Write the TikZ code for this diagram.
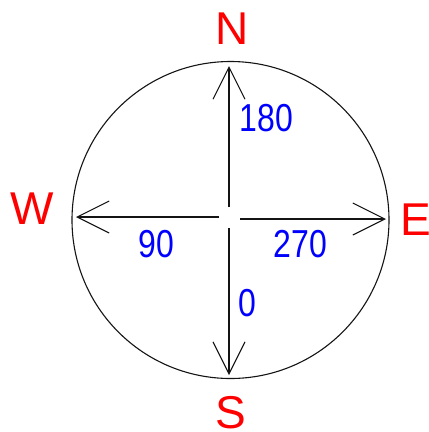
\documentclass[tikz,border=0pt]{standalone}
\usepackage{fontspec}
\setmainfont{Liberation Sans}
\usetikzlibrary{arrows.meta}
\definecolor{lblred}{RGB}{255,0,0}
\definecolor{lblblue}{RGB}{0,0,255}
\definecolor{ink}{RGB}{20,20,20}
\tikzset{
  dirlabel/.style={text=lblred, inner sep=0pt, font=\fontsize{46}{50}\selectfont},
  anglabel/.style={text=lblblue, inner sep=0pt, font=\fontsize{39}{42}\selectfont},
  pointer/.style={draw=ink, line width=1.1pt, -{Straight Barb[length=32pt, width=32pt, line width=1.1pt]}},
  rim/.style={draw=ink, line width=1.1pt}
}
\newcommand{\narrow}[1]{\scalebox{0.82}[1]{#1}}
\begin{document}
\begin{tikzpicture}[x=1pt, y=-1pt]
  \useasboundingbox (0,0) rectangle (429,432);
  \fill[white] (0,0) rectangle (429,432);
  % circle
  \node[circle, rim, minimum size=317pt, inner sep=0pt] (dial) at (230.5,220) {};
  % end points
  \coordinate (cN) at (229,207);
  \coordinate (cS) at (229,228);
  \coordinate (cW) at (219,217);
  \coordinate (cE) at (240,219);
  \coordinate (tN) at (229,66);
  \coordinate (tS) at (229,375);
  \coordinate (tW) at (76,217);
  \coordinate (tE) at (386,219);
  % pointers
  \draw[pointer] (cN) -- (tN);
  \draw[pointer] (cS) -- (tS);
  \draw[pointer] (cW) -- (tW);
  \draw[pointer] (cE) -- (tE);
  % direction labels
  \node[dirlabel] (lN) at (232.5,28.5) {N};
  \node[dirlabel] (lS) at (230.5,413) {S};
  \node[dirlabel] (lW) at (32.5,208.5) {W};
  \node[dirlabel, anchor=west] (lE) at (400.5,219.5) {E};
  % angle labels
  \node[anglabel] (a180) at (266.5,118) {\narrow{180}};
  \node[anglabel] (a90) at (156.5,244) {\narrow{90}};
  \node[anglabel] (a270) at (300.5,244) {\narrow{270}};
  \node[anglabel] (a0) at (247.5,303) {\narrow{0}};
\end{tikzpicture}
\end{document}
